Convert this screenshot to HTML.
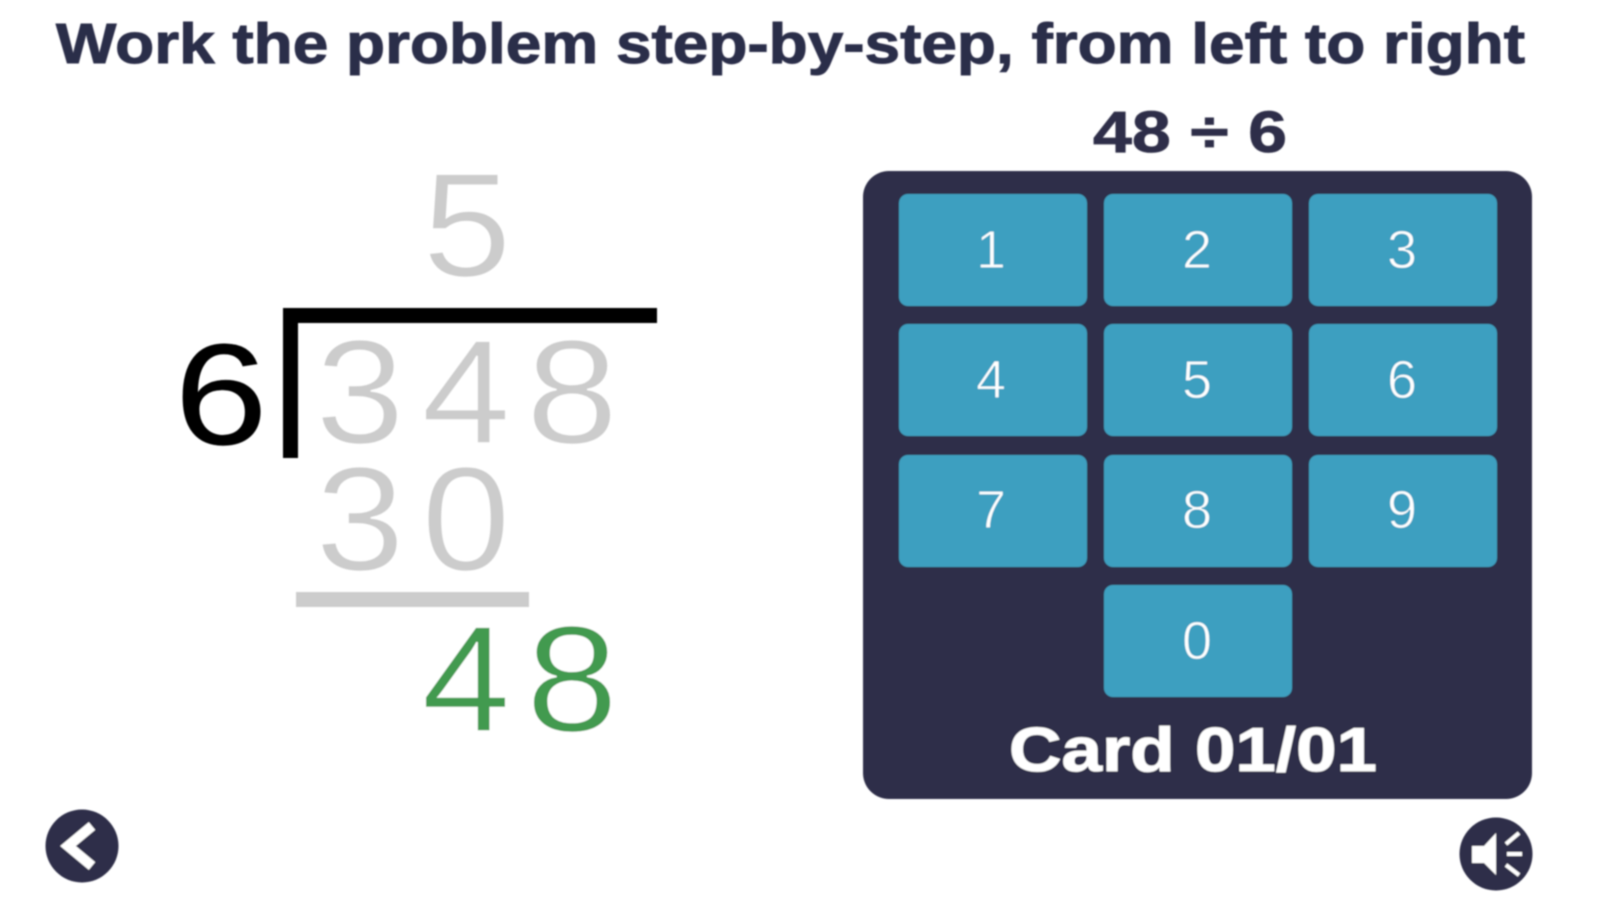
<!DOCTYPE html>
<html>
<head>
<meta charset="utf-8">
<style>
html,body{margin:0;padding:0;background:#fff;width:1599px;height:900px;overflow:hidden}
svg{display:block}
text{font-family:"Liberation Sans",sans-serif}
.big{font-size:148px;text-anchor:middle;stroke:#fff;stroke-width:1.5px}
.key{font-size:54px;text-anchor:middle;fill:#fff;stroke:#3c9fc0;stroke-width:1.2px}
.b{font-weight:bold}
</style>
</head>
<body>
<svg width="1599" height="900" viewBox="0 0 1599 900" xmlns="http://www.w3.org/2000/svg">
<defs><filter id="s" x="-2%" y="-2%" width="104%" height="104%"><feGaussianBlur stdDeviation="0.9"/></filter></defs>
<g filter="url(#s)">
<text class="b" x="56" y="63" font-size="57" fill="#2c2d4a" stroke="#2c2d4a" stroke-width="1" textLength="1469" lengthAdjust="spacingAndGlyphs">Work the problem step-by-step, from left to right</text>
<text class="b" x="1093" y="152" font-size="58" fill="#2e2f48" stroke="#2e2f48" stroke-width="0.8" textLength="194" lengthAdjust="spacingAndGlyphs">48 ÷ 6</text>

<g fill="#cccccc">
<text class="big" transform="translate(467,276) scale(1.08,1)">5</text>
<text class="big" transform="translate(360,443) scale(1.08,1)">3</text>
<text class="big" transform="translate(466,443) scale(1.08,1)">4</text>
<text class="big" transform="translate(572,443) scale(1.12,1)">8</text>
<text class="big" transform="translate(360,570) scale(1.08,1)">3</text>
<text class="big" transform="translate(466,570) scale(1.08,1)">0</text>
</g>
<text class="big" fill="#000" style="stroke:#000;stroke-width:0.6px" transform="translate(221,444) scale(1.13,0.97)">6</text>
<g fill="#429a4f">
<text class="big" transform="translate(466,731) scale(1.08,1.02)">4</text>
<text class="big" transform="translate(572,731) scale(1.12,1.02)">8</text>
</g>

<rect x="283" y="308" width="374" height="15" fill="#000"/>
<rect x="283" y="308" width="15" height="150" fill="#000"/>
<rect x="296" y="592" width="233" height="15" fill="#cccccc"/>

<rect x="863" y="171" width="669" height="628" rx="26" fill="#2e2f48"/>
<g fill="#3c9fc0">
<rect x="899" y="194" width="188" height="112" rx="9"/>
<rect x="1104" y="194" width="188" height="112" rx="9"/>
<rect x="1309" y="194" width="188" height="112" rx="9"/>
<rect x="899" y="324" width="188" height="112" rx="9"/>
<rect x="1104" y="324" width="188" height="112" rx="9"/>
<rect x="1309" y="324" width="188" height="112" rx="9"/>
<rect x="899" y="455" width="188" height="112" rx="9"/>
<rect x="1104" y="455" width="188" height="112" rx="9"/>
<rect x="1309" y="455" width="188" height="112" rx="9"/>
<rect x="1104" y="585" width="188" height="112" rx="9"/>
</g>
<text class="key" x="991" y="268">1</text>
<text class="key" x="1197" y="268">2</text>
<text class="key" x="1402" y="268">3</text>
<text class="key" x="991" y="398">4</text>
<text class="key" x="1197" y="398">5</text>
<text class="key" x="1402" y="398">6</text>
<text class="key" x="991" y="528">7</text>
<text class="key" x="1197" y="528">8</text>
<text class="key" x="1402" y="528">9</text>
<text class="key" x="1197" y="659">0</text>
<text class="b" x="1009" y="771" font-size="62" fill="#fff" stroke="#fff" stroke-width="0.8" textLength="368" lengthAdjust="spacingAndGlyphs">Card 01/01</text>

<circle cx="82" cy="846" r="36.5" fill="#2e2f48"/>
<polyline points="92,826 68,846 92,866" fill="none" stroke="#fff" stroke-width="10"/>

<circle cx="1496" cy="854" r="36.5" fill="#2e2f48"/>
<polygon points="1472,846 1484,846 1496,833 1496,875 1484,863 1472,863" fill="#fff"/>
<g stroke="#fff" stroke-width="4" fill="none">
<line x1="1506" y1="844" x2="1519" y2="833"/>
<line x1="1507" y1="854" x2="1522" y2="854"/>
<line x1="1506" y1="865" x2="1519" y2="875"/>
</g>
</g>
</svg>
</body>
</html>
